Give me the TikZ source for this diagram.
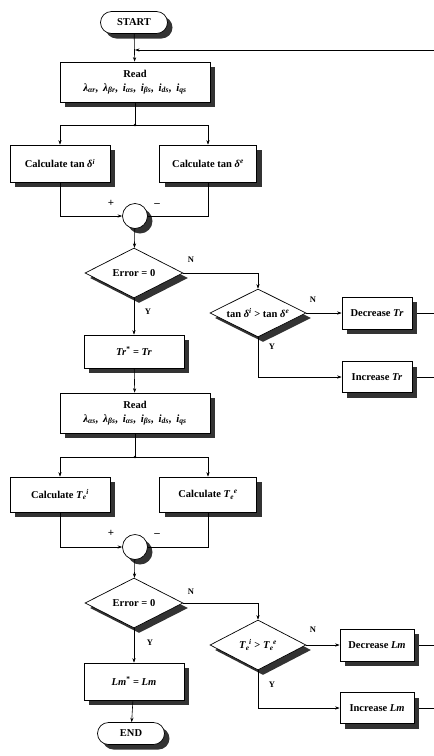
\documentclass[tikz,border=0pt]{standalone}
\usepackage{fontspec}
\setmainfont{Liberation Serif}
\usetikzlibrary{shapes.geometric,shapes.misc,shadows,arrows.meta}
% torque symbol with subscript then superscript, e.g. T_e^i
\newcommand\Tsup[2]{\textit{T}\textsubscript{\itshape #1}\kern-0.3pt\textsuperscript{\itshape #2}}
\newcommand\dsup[1]{\textit{δ}\textsuperscript{\itshape #1}}
\newcommand\sep{,\hspace{4.5pt}}
\begin{document}
\begin{tikzpicture}[x=1pt,y=-1pt,
  base/.style={draw=black, line width=0.7pt, fill=white,
    font=\bfseries\fontsize{10.5}{13}\selectfont, inner sep=1pt, align=center,
    drop shadow={shadow xshift=5pt, shadow yshift=-5pt, fill=black!80, opacity=1}},
  proc/.style={base, rectangle, minimum width=#1, minimum height=34pt},
  proc/.default=100pt,
  term/.style={base, rounded rectangle, minimum width=69pt, minimum height=22pt},
  dec/.style={base, diamond, aspect=2, minimum width=98pt, minimum height=50pt, inner sep=0pt},
  sum/.style={base, circle, minimum size=25pt, inner sep=0pt},
  line/.style={line width=0.6pt},
  link/.style={line width=0.6pt, -{Stealth[length=4.5pt,width=3.2pt]}},
  lab/.style={font=\bfseries\fontsize{8.5}{9}\selectfont, inner sep=0pt},
  sign/.style={font=\bfseries\fontsize{11}{11}\selectfont, inner sep=0pt}
]
\useasboundingbox (0,0) rectangle (434,756);

% ---------- first loop: rotor time constant ----------
\node[term] (start) at (134,22.5) {START};
\coordinate (loopin) at (434,50);
\coordinate (loopj) at (135,50);
\node[proc=150pt, minimum height=40pt] (read1) at (135,82)
  {Read\\[1pt] \fontsize{11}{13}\selectfont\textit{λ\textsubscript{αr}\sep λ\textsubscript{βr}\sep i\textsubscript{αs}\sep i\textsubscript{βs}\sep i\textsubscript{ds}\sep i\textsubscript{qs}}};
\coordinate (sp1) at (135,125);
\node[proc=100pt, minimum height=37pt] (calcL1) at (60,163.5) {Calculate tan \dsup{i}};
\node[proc=97pt, minimum height=37pt] (calcR1) at (208,163.5) {Calculate tan \dsup{e}};
\node[sum] (sum1) at (135,216) {};
\node[dec] (dec1) at (134,273) {Error = 0};
\node[dec, minimum width=96pt, minimum height=48pt] (dec2) at (258,313) {tan \dsup{i} > tan \dsup{e}};
\node[proc=70pt, minimum height=32pt] (decTr) at (377,313) {Decrease \textit{Tr}};
\node[proc=70pt, minimum height=31pt] (incTr) at (377,377) {Increase \textit{Tr}};
\node[proc=100pt, minimum height=33pt] (trstar) at (134,351.5) {\textit{Tr}\textsuperscript{*} = \textit{Tr}};
\coordinate (e1) at (434,313);
\coordinate (e2) at (434,377);

% ---------- second loop: magnetising inductance ----------
\node[proc=150pt, minimum height=40pt] (read2) at (135,413)
  {Read\\[1pt] \fontsize{11}{13}\selectfont\textit{λ\textsubscript{αs}\sep λ\textsubscript{βs}\sep i\textsubscript{αs}\sep i\textsubscript{βs}\sep i\textsubscript{ds}\sep i\textsubscript{qs}}};
\coordinate (sp2) at (135,457);
\node[proc=100pt, minimum height=35pt] (calcL2) at (60,494.5) {Calculate \Tsup{e}{i}};
\node[proc=97pt, minimum height=35pt] (calcR2) at (208,494.5) {Calculate \Tsup{e}{e}};
\node[sum] (sum2) at (135,547) {};
\node[dec] (dec3) at (134,603) {Error = 0};
\node[dec, minimum width=96pt, minimum height=50pt] (dec4) at (258,645) {\Tsup{e}{i} > \Tsup{e}{e}};
\node[proc=74pt, minimum height=32pt] (decLm) at (377,645) {Decrease \textit{Lm}};
\node[proc=74pt, minimum height=31pt] (incLm) at (377,708) {Increase \textit{Lm}};
\node[proc=100pt, minimum height=37pt] (lmstar) at (134,681.5) {\textit{Lm}\textsuperscript{*} = \textit{Lm}};
\node[term] (end) at (131,733.5) {END};
\coordinate (e3) at (434,645);
\coordinate (e4) at (434,708);

% ---------- connectors ----------
\draw[link] (start) -- (read1);
\draw[link] (loopin) -- (loopj);
\draw[line] (read1) -- (sp1);
\fill (sp1) circle (1.4pt);
\draw[link] (sp1) -| (calcL1);
\draw[link] (sp1) -| (calcR1);
\draw[link] (calcL1) |- (sum1);
\draw[line] (calcR1) |- (sum1);
\draw[link] (sum1) -- (dec1);
\draw[link] (dec1) -| (dec2);
\draw[link] (dec2) -- (decTr);
\draw[link] (dec2) |- (incTr);
\draw[link] (dec1) -- (trstar);
\draw[line] ([xshift=5pt]decTr.east) -- (e1);
\draw[line] ([xshift=5pt]incTr.east) -- (e2);
\draw[link] (trstar) -- (read2);

\draw[line] (read2) -- (sp2);
\fill (sp2) circle (1.4pt);
\draw[link] (sp2) -| (calcL2);
\draw[link] (sp2) -| (calcR2);
\draw[link] (calcL2) |- (sum2);
\draw[line] (calcR2) |- (sum2);
\draw[link] (sum2) -- (dec3);
\draw[link] (dec3) -| (dec4);
\draw[link] (dec4) -- (decLm);
\draw[link] (dec4) |- (incLm);
\draw[link] (dec3) -- (lmstar);
\draw[line] ([xshift=5pt]decLm.east) -- (e3);
\draw[line] ([xshift=5pt]incLm.east) -- (e4);
\draw[link] (lmstar) -- (end);

% ---------- signs and branch labels ----------
\node[sign] (p1) at (111,203) {+};
\node[sign] (m1) at (157,205) {\textendash};
\node[lab] (n1) at (191,260) {N};
\node[lab] (y1) at (148,312) {Y};
\node[lab] (n2) at (313,300) {N};
\node[lab] (y2) at (272,347) {Y};
\node[sign] (p2) at (111,533) {+};
\node[sign] (m2) at (157,535) {\textendash};
\node[lab] (n3) at (191,592) {N};
\node[lab] (y3) at (150,643) {Y};
\node[lab] (n4) at (313,630) {N};
\node[lab] (y4) at (272,685) {Y};
\end{tikzpicture}
\end{document}
